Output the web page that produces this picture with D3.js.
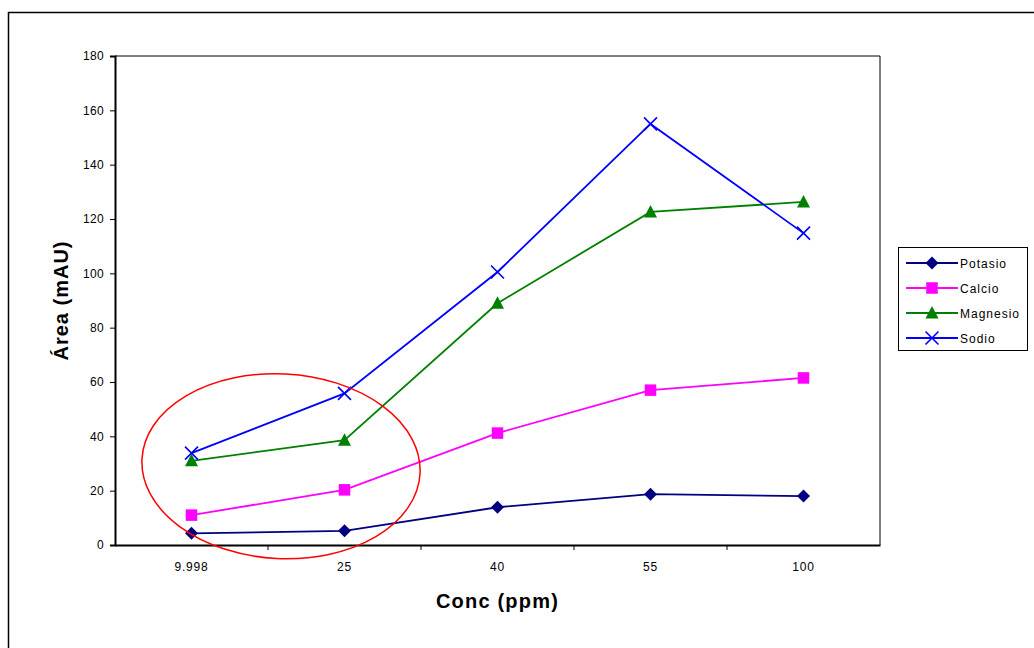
<!DOCTYPE html>
<html>
<head>
<meta charset="utf-8">
<script src="https://cdn.jsdelivr.net/npm/d3@7"></script>
<style>
  html, body { margin: 0; padding: 0; background: #fff; }
  svg { display: block; font-family: Arial, "Liberation Sans", sans-serif; }
</style>
</head>
<body>
<svg id="chart" width="1034" height="648"></svg>
<script>
// Concentration categories (ppm) and measured peak areas (mAU)
const categories = ["9.998", "25", "40", "55", "100"];
const potasio  = [4.3, 5.2, 13.9, 18.7, 18.0];
const calcio   = [11.0, 20.3, 41.2, 57.0, 61.5];
const magnesio = [31.0, 38.6, 89.0, 122.6, 126.3];
const sodio    = [33.8, 55.8, 100.5, 155.0, 114.8];
const yTicks   = [0, 20, 40, 60, 80, 100, 120, 140, 160, 180];

const series = [
  { name: "Potasio",  values: potasio,  color: "#000080", symbol: "diamond" },
  { name: "Calcio",   values: calcio,   color: "#FF00FF", symbol: "square" },
  { name: "Magnesio", values: magnesio, color: "#008000", symbol: "triangle" },
  { name: "Sodio",    values: sodio,    color: "#0000FF", symbol: "cross" }
];

const FONT = "Arial, 'Liberation Sans', sans-serif";
const svg = d3.select("#chart");
const plot = { left: 115, top: 56, right: 880, bottom: 545 };

// Outer chart frame (runs off the right and bottom edges)
svg.append("rect")
  .attr("x", 8.5).attr("y", 12.5)
  .attr("width", 1040).attr("height", 650)
  .attr("fill", "none").attr("stroke", "#000").attr("stroke-width", 1.5);

const x = d3.scaleBand().domain(categories).range([plot.left, plot.right]);
const y = d3.scaleLinear().domain([0, 180]).range([plot.bottom, plot.top]);
const cx = c => x(c) + x.bandwidth() / 2;

// Plot area border (top and right)
svg.append("path")
  .attr("d", `M${plot.left},${plot.top}H${plot.right}V${plot.bottom}`)
  .attr("fill", "none").attr("stroke", "#000").attr("stroke-width", 1);

// Y axis
const yAxis = svg.append("g")
  .attr("transform", `translate(${plot.left},0)`)
  .call(d3.axisLeft(y).tickValues(yTicks).tickSize(5).tickPadding(6));
yAxis.select(".domain").attr("stroke-width", 2);
yAxis.selectAll(".tick line").attr("stroke-width", 1);
yAxis.selectAll("text")
  .attr("font-size", 12).attr("font-family", FONT).attr("fill", "#000")
  .attr("letter-spacing", 0.3);

// X axis: tick marks sit on the category boundaries
const xAxis = svg.append("g")
  .attr("transform", `translate(0,${plot.bottom})`)
  .call(d3.axisBottom(x).tickSize(0).tickPadding(17));
xAxis.select(".domain").attr("stroke-width", 2);
xAxis.selectAll("text")
  .attr("font-size", 12).attr("font-family", FONT).attr("fill", "#000")
  .attr("letter-spacing", 0.8);
xAxis.selectAll(".boundary")
  .data(categories.slice(1))
  .enter().append("line")
  .attr("class", "boundary")
  .attr("x1", d => x(d)).attr("x2", d => x(d))
  .attr("y1", 0).attr("y2", 5)
  .attr("stroke", "#000").attr("stroke-width", 1);

// Axis titles
svg.append("text")
  .attr("transform", `translate(68,${(plot.top + plot.bottom) / 2}) rotate(-90)`)
  .attr("text-anchor", "middle")
  .attr("font-size", 20).attr("font-weight", "bold")
  .attr("letter-spacing", 1)
  .text("Área (mAU)");
svg.append("text")
  .attr("x", (plot.left + plot.right) / 2).attr("y", 608)
  .attr("text-anchor", "middle")
  .attr("font-size", 20).attr("font-weight", "bold")
  .attr("letter-spacing", 1.2)
  .text("Conc (ppm)");

// Marker drawing
function drawMarker(g, symbol, color) {
  if (symbol === "diamond") {
    g.append("path").attr("d", "M0,-6.5L6.5,0L0,6.5L-6.5,0Z").attr("fill", color);
  } else if (symbol === "square") {
    g.append("rect").attr("x", -5.75).attr("y", -5.75).attr("width", 11.5).attr("height", 11.5).attr("fill", color);
  } else if (symbol === "triangle") {
    g.append("path").attr("d", "M0,-7L6.5,5.5L-6.5,5.5Z").attr("fill", color);
  } else if (symbol === "cross") {
    g.append("path").attr("d", "M-6.5,-6.5L6.5,6.5M-6.5,6.5L6.5,-6.5")
      .attr("stroke", color).attr("stroke-width", 1.6).attr("fill", "none");
  }
}

const line = d3.line().x((d, i) => cx(categories[i])).y(d => y(d));

series.forEach(s => {
  svg.append("path")
    .datum(s.values)
    .attr("d", line)
    .attr("fill", "none")
    .attr("stroke", s.color)
    .attr("stroke-width", 1.8);
  s.values.forEach((v, i) => {
    const g = svg.append("g").attr("transform", `translate(${cx(categories[i])},${y(v)})`);
    drawMarker(g, s.symbol, s.color);
  });
});

// Highlight ellipse around the two lowest concentrations
const ex = (cx(categories[0]) + cx(categories[1])) / 2 + x.bandwidth() * 0.085;
svg.append("ellipse")
  .attr("cx", ex).attr("cy", y(29))
  .attr("rx", x.bandwidth() * 0.91).attr("ry", y(0) - y(34))
  .attr("transform", `rotate(3,${ex},${y(29)})`)
  .attr("fill", "none").attr("stroke", "#FF0000").attr("stroke-width", 1.5);

// Legend
const legend = svg.append("g").attr("transform", "translate(898,247)");
legend.append("rect")
  .attr("x", 0.5).attr("y", 0.5).attr("width", 129).attr("height", 103)
  .attr("fill", "#fff").attr("stroke", "#000").attr("stroke-width", 1);
series.forEach((s, i) => {
  const ly = 16 + i * 25;
  const row = legend.append("g").attr("transform", `translate(0,${ly})`);
  row.append("line").attr("x1", 8).attr("x2", 60).attr("y1", 0).attr("y2", 0)
    .attr("stroke", s.color).attr("stroke-width", 1.8);
  const m = row.append("g").attr("transform", "translate(34,0)");
  drawMarker(m, s.symbol, s.color);
  row.append("text").attr("x", 62).attr("y", 4.5)
    .attr("font-size", 12).attr("letter-spacing", 1).attr("fill", "#000").text(s.name);
});
</script>
</body>
</html>
